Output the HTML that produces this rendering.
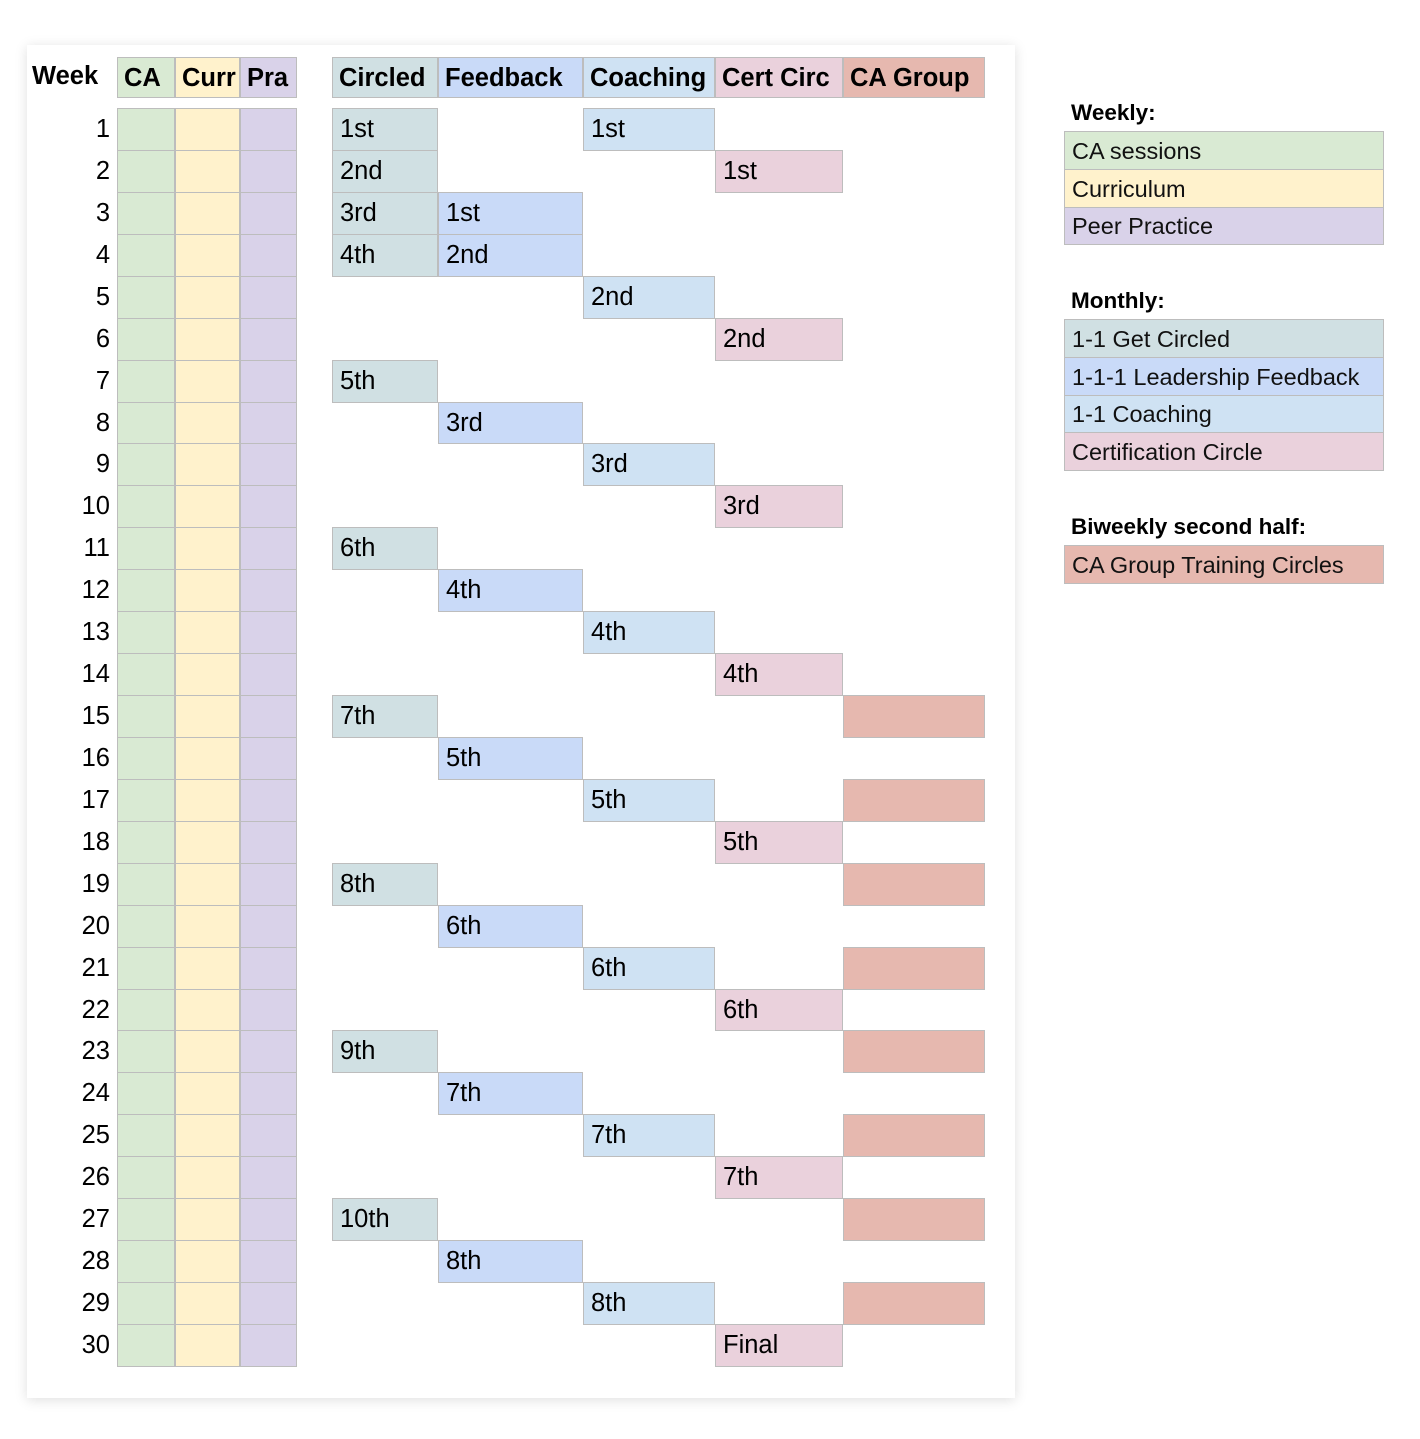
<!DOCTYPE html>
<html><head><meta charset="utf-8"><style>
body{margin:0;width:1420px;height:1439px;background:#fff;position:relative;overflow:hidden;font-family:"Liberation Sans",Arial,sans-serif;}
#card{position:absolute;left:27px;top:45px;width:988px;height:1353px;background:#fff;box-shadow:0 2px 12px rgba(0,0,0,0.13);}
.c{position:absolute;box-sizing:border-box;border:1px solid #bdbdbd;font-size:25.5px;line-height:40px;padding-left:7px;color:#000;white-space:nowrap;overflow:hidden;}
.h{font-weight:bold;}
.t{position:absolute;font-size:25.5px;color:#000;}
.lg{position:absolute;box-sizing:border-box;border:1px solid #bdbdbd;font-size:23.5px;padding-left:7px;color:#111;white-space:nowrap;}
.lh{position:absolute;font-size:22.5px;font-weight:bold;color:#000;}
</style></head><body>
<div id="card"></div>
<div id="root"></div>
<script>
const weeks = Array.from({length:30},(_,i)=>i+1);
const circledWeeks=[1,2,3,4,7,11,15,19,23,27];
const circledLabels=["1st","2nd","3rd","4th","5th","6th","7th","8th","9th","10th"];
const feedbackWeeks=[3,4,8,12,16,20,24,28];
const feedbackLabels=["1st","2nd","3rd","4th","5th","6th","7th","8th"];
const coachingWeeks=[1,5,9,13,17,21,25,29];
const coachingLabels=["1st","2nd","3rd","4th","5th","6th","7th","8th"];
const certWeeks=[2,6,10,14,18,22,26,30];
const certLabels=["1st","2nd","3rd","4th","5th","6th","7th","Final"];
const groupWeeks=[15,17,19,21,23,25,27,29];

const root=document.getElementById('root');
const y0=108, rh=41.93;
function yOf(w){return y0+(w-1)*rh;}
function cell(x,y,w,h,bg,txt,name,cls){
  const d=document.createElement('div');
  d.className=cls||'c';
  d.style.cssText=`left:${x}px;top:${y}px;width:${w}px;height:${h}px;background:${bg};`;
  if(txt) d.textContent=txt;
  
  
  root.appendChild(d);return d;
}
const cols={ca:[117,58,'#d9ead3'],curr:[175,65,'#fff2cc'],pra:[240,57,'#d9d2e9'],
 circ:[332,106,'#d0e0e3'],fb:[438,145,'#c9daf8'],coach:[583,132,'#cfe2f3'],cert:[715,128,'#ead1dc'],grp:[843,142,'#e6b8af']};
const hdr=document.createElement('div');hdr.className='t h';hdr.style.cssText='left:32px;top:62px;';hdr.textContent='Week';


root.appendChild(hdr);
[['ca','CA'],['curr','Curr'],['pra','Pra'],['circ','Circled'],['fb','Feedback'],['coach','Coaching'],['cert','Cert Circ'],['grp','CA Group']].forEach(([k,t])=>{
  const c=cols[k];const e=cell(c[0],57,c[1],41,c[2],t,k+'-header','c h');e.style.paddingLeft='6px';
});
weeks.forEach(w=>{
  const y=yOf(w);
  const n=document.createElement('div');n.className='t';
  n.style.cssText=`left:40px;width:70px;text-align:right;top:${y+7}px;`;n.textContent=w;
  
  
  root.appendChild(n);
  ['ca','curr','pra'].forEach(k=>{const c=cols[k];cell(c[0],y,c[1],rh+1,c[2],'',k+'-cell');});
});
function series(k,ws,ls,name){const c=cols[k];ws.forEach((w,i)=>cell(c[0],yOf(w),c[1],rh+1,c[2],ls?ls[i]:'',name));}
series('circ',circledWeeks,circledLabels,'circled-cell');
series('fb',feedbackWeeks,feedbackLabels,'feedback-cell');
series('coach',coachingWeeks,coachingLabels,'coaching-cell');
series('cert',certWeeks,certLabels,'cert-circle-cell');
series('grp',groupWeeks,null,'ca-group-cell');
function lh(t,y,name){const d=document.createElement('div');d.className='lh';d.style.cssText=`left:1071px;top:${y}px;`;d.textContent=t;


root.appendChild(d);}
function li(t,y,h,bg,name){const d=cell(1064,y,320,h+1,bg,t,name,'lg');d.style.lineHeight=h+'px';}
lh('Weekly:',100,'legend-weekly-title');
li('CA sessions',131,38,'#d9ead3','legend-ca-sessions');
li('Curriculum',169,38,'#fff2cc','legend-curriculum');
li('Peer Practice',207,37,'#d9d2e9','legend-peer-practice');
lh('Monthly:',288,'legend-monthly-title');
li('1-1 Get Circled',319,38,'#d0e0e3','legend-get-circled');
li('1-1-1 Leadership Feedback',357,38,'#c9daf8','legend-leadership-feedback');
li('1-1 Coaching',395,37,'#cfe2f3','legend-coaching');
li('Certification Circle',432,38,'#ead1dc','legend-certification-circle');
lh('Biweekly second half:',514,'legend-biweekly-title');
li('CA Group Training Circles',545,38,'#e6b8af','legend-ca-group');
</script>
</body></html>
